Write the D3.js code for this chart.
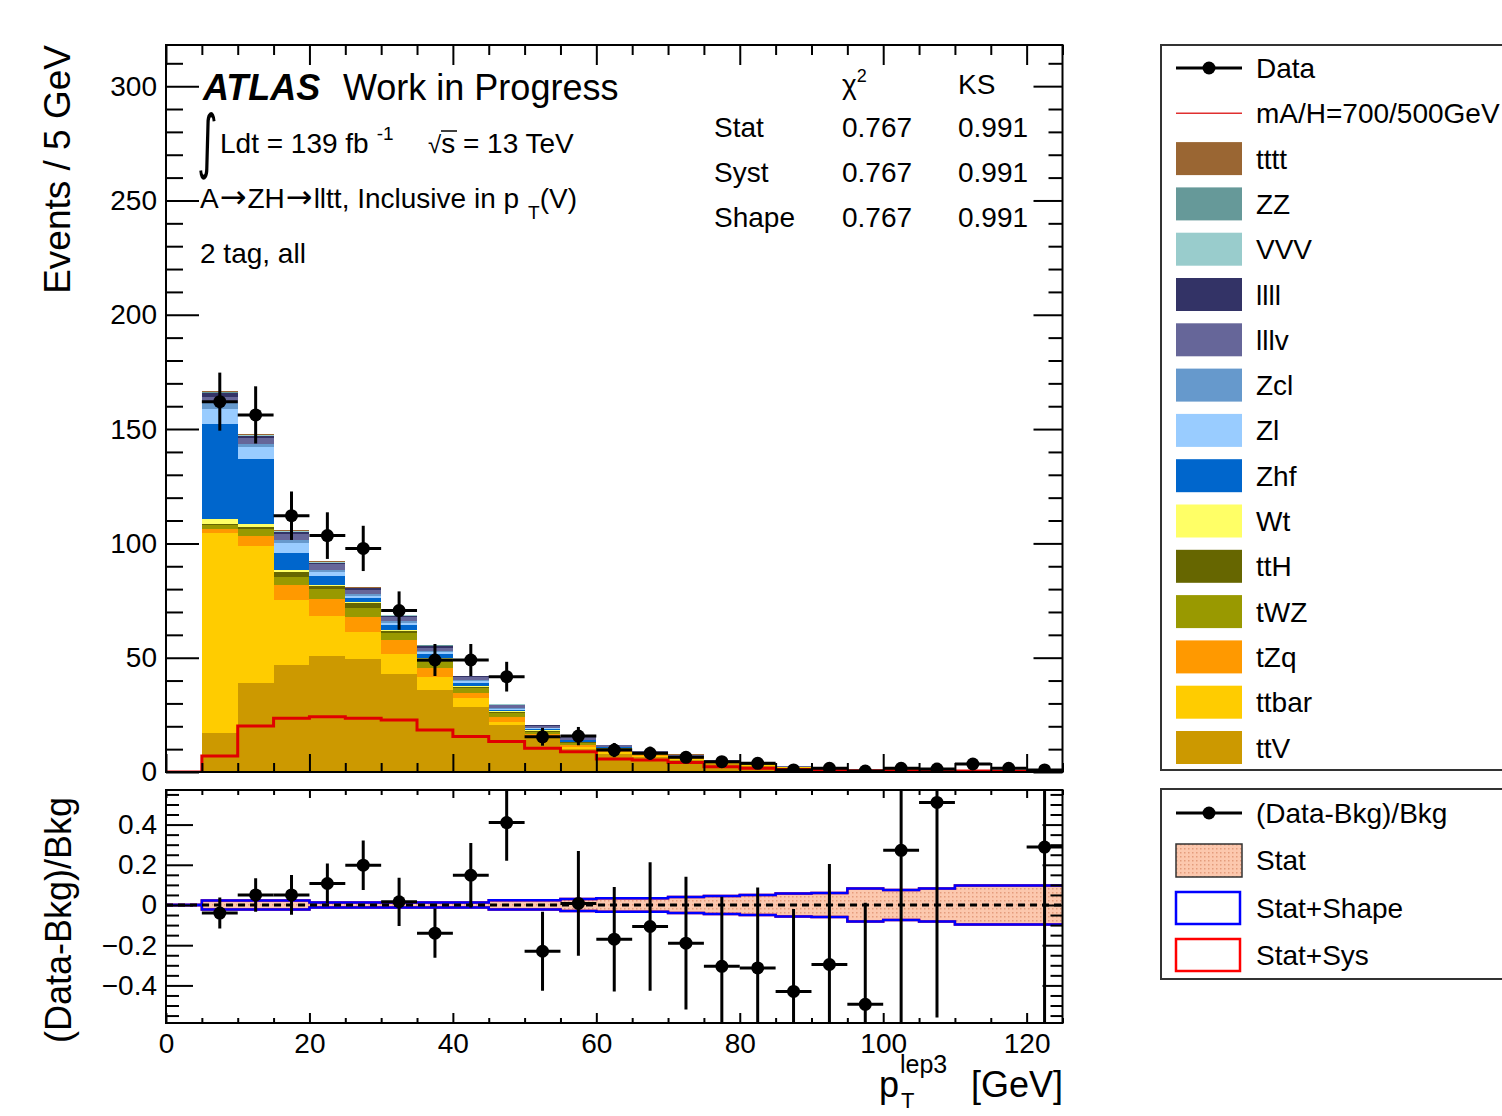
<!DOCTYPE html>
<html>
<head>
<meta charset="utf-8">
<script src="https://cdn.jsdelivr.net/npm/d3@7"></script>
<style>
  body { margin: 0; background: #fff; }
  text { font-family: "Liberation Sans", Arial, Helvetica, sans-serif; fill: #000; }
</style>
</head>
<body>
<svg id="chart"></svg>
<script>
// bins of 5 GeV, lower edges
const binLo = [0, 5, 10, 15, 20, 25, 30, 35, 40, 45, 50, 55, 60, 65, 70, 75, 80, 85, 90, 95, 100, 105, 110, 115, 120]
const binWidth = 5

// backgrounds (events / 5 GeV)
const ttV   = [0, 16.9, 38.8, 46.8, 50.9, 49.4, 42.9, 35.9, 28.6, 20.6, 14.7, 9.9, 8.0, 6.5, 5.2, 4.0, 2.8, 1.9, 1.3, 0.7, 0.9, 0.7, 0.6, 0.5, 0.5]
const ttbar = [0, 87.5, 60.2, 28.4, 17.5, 11.7, 8.7, 5.8, 3.6, 1.4, 1.0, 0.9, 0.6, 0.4, 0.5, 0.3, 0.2, 0.1, 0.1, 0.05, 0.1, 0.1, 0.1, 0.1, 0.05]
const tZq   = [0, 1.8, 4.4, 6.6, 7.1, 6.9, 6.1, 3.9, 2.5, 1.9, 0.9, 1.0, 0.6, 0.4, 0.4, 0.2, 0.1, 0.1, 0.05, 0.05, 0.05, 0.05, 0.05, 0.05, 0.03]
const tWZ   = [0, 1.8, 2.8, 3.4, 4.4, 3.6, 3.0, 2.7, 1.9, 1.8, 1.0, 1.0, 0.8, 0.5, 0.4, 0.2, 0.15, 0.1, 0.08, 0.05, 0.06, 0.05, 0.04, 0.04, 0.04]
const ttH   = [0, 0.5, 1.1, 2.4, 1.5, 2.2, 1.0, 1.0, 0.7, 0.7, 0.4, 0.3, 0.3, 0.2, 0.2, 0.1, 0.05, 0.05, 0.03, 0.02, 0.02, 0.02, 0.02, 0.02, 0.02]
const Wt    = [0, 2.0, 1.2, 0.8, 0.4, 0.4, 0.4, 0.4, 0.3, 0.2, 0.2, 0.1, 0.1, 0.05, 0.05, 0.02, 0.02, 0.01, 0.01, 0, 0, 0, 0, 0, 0]
const Zhf   = [0, 41.7, 28.3, 7.5, 4.1, 1.8, 2.2, 1.8, 1.5, 0.6, 0.6, 0.6, 0.4, 0.3, 0.2, 0.1, 0.05, 0.03, 0.02, 0.02, 0.02, 0.01, 0.01, 0.01, 0.01]
const Zl    = [0, 6.5, 5.2, 4.4, 1.7, 1.0, 1.0, 1.0, 0.6, 0.4, 0.3, 0.2, 0.2, 0.1, 0.1, 0.05, 0.03, 0.02, 0.01, 0.01, 0.01, 0.01, 0.01, 0, 0]
const Zcl   = [0, 2.6, 1.5, 1.2, 0.8, 0.7, 0.7, 0.6, 0.5, 0.3, 0.2, 0.2, 0.1, 0.1, 0.05, 0.03, 0.02, 0.01, 0.01, 0, 0, 0, 0, 0, 0]
const lllv  = [0, 2.9, 2.5, 2.6, 2.6, 1.9, 1.7, 1.3, 1.2, 1.2, 1.0, 0.9, 0.6, 0.5, 0.4, 0.2, 0.15, 0.1, 0.08, 0.05, 0.05, 0.04, 0.04, 0.04, 0.03]
const llll  = [0, 1.4, 1.0, 0.9, 0.6, 0.8, 0.7, 0.8, 0.5, 0.4, 0.3, 0.2, 0.2, 0.1, 0.1, 0.05, 0.05, 0.03, 0.02, 0.02, 0.02, 0.02, 0.02, 0.02, 0.01]
const VVV   = [0, 0.3, 0.2, 0.2, 0.1, 0.1, 0.1, 0.1, 0.1, 0.05, 0.05, 0.05, 0.03, 0.03, 0.02, 0.02, 0.01, 0.01, 0.01, 0.01, 0.01, 0.01, 0.01, 0.01, 0.01]
const ZZ    = [0, 0.5, 0.4, 0.3, 0.2, 0.2, 0.2, 0.1, 0.1, 0.05, 0.05, 0.05, 0.03, 0.03, 0.02, 0.02, 0.01, 0.01, 0.01, 0.01, 0.01, 0.01, 0.01, 0.01, 0.01]
const tttt  = [0, 0.4, 0.3, 0.2, 0.2, 0.2, 0.1, 0.1, 0.1, 0.05, 0.05, 0.03, 0.03, 0.02, 0.02, 0.01, 0.01, 0.01, 0.01, 0, 0, 0, 0, 0, 0]

// signal mA/H = 700/500 GeV
const signal = [0, 7.0, 20.1, 23.5, 24.2, 23.5, 22.7, 18.4, 15.5, 13.3, 10.4, 8.9, 5.7, 5.2, 4.2, 2.3, 1.6, 1.1, 0.9, 0.6, 0.5, 0.4, 0.4, 0.3, 0.3]

// data with errors
const dataVal = [null, 162, 156.2, 112.1, 103.4, 97.8, 70.6, 49, 49, 41.7, 15.4, 15.7, 9.6, 8.2, 6.4, 4.5, 3.8, 0.9, 1.6, 0.4, 1.6, 1.3, 3.5, 1.6, 0.9]
const dataErr = [null, 12.7, 12.5, 10.6, 10.2, 9.9, 8.4, 7.0, 7.0, 6.5, 3.9, 4.0, 3.1, 2.9, 2.5, 2.1, 1.9, 0.9, 1.3, 0.6, 1.3, 1.1, 1.9, 1.3, 0.9]

// ratio panel (110-120 GeV points are off scale)
const ratioVal = [null, -0.04, 0.05, 0.05, 0.107, 0.198, 0.016, -0.14, 0.148, 0.41, -0.23, 0.008, -0.17, -0.107, -0.19, -0.305, -0.313, -0.43, -0.296, -0.494, 0.272, 0.51, null, null, 0.288]
const ratioErr = [null, 0.077, 0.083, 0.099, 0.10, 0.123, 0.12, 0.123, 0.16, 0.19, 0.196, 0.26, 0.26, 0.32, 0.33, 0.346, 0.40, 0.41, 0.50, 0.505, 1.0, 1.07, null, null, 1.1]
const statBand = [0, 0.022, 0.022, 0.022, 0.012, 0.012, 0.012, 0.012, 0.012, 0.023, 0.023, 0.03, 0.033, 0.033, 0.04, 0.045, 0.05, 0.057, 0.06, 0.082, 0.075, 0.082, 0.097, 0.097, 0.097]

// labels and ticks
const legendKeys = ['tttt', 'ZZ', 'VVV', 'llll', 'lllv', 'Zcl', 'Zl', 'Zhf', 'Wt', 'ttH', 'tWZ', 'tZq', 'ttbar', 'ttV']
const legendColors = ['#9a6633', '#669999', '#99cccc', '#333366', '#666699', '#6699cc', '#99ccff', '#0066cc', '#ffff66', '#666600', '#999900', '#ff9900', '#ffcc00', '#cc9900']
const yTicks = [0, 50, 100, 150, 200, 250, 300]
const xTicks = [0, 20, 40, 60, 80, 100, 120]
const rTicks = [-0.4, -0.2, 0, 0.2, 0.4]
const statNames = ['Stat', 'Syst', 'Shape']
const chi2Vals = ['0.767', '0.767', '0.767']
const ksVals = ['0.991', '0.991', '0.991']

const bkg = { ttV, ttbar, tZq, tWZ, ttH, Wt, Zhf, Zl, Zcl, lllv, llll, VVV, ZZ, tttt }
const stackOrder = legendKeys.slice().reverse()
const colorScale = d3.scaleOrdinal().domain(legendKeys).range(legendColors)

const svg = d3.select('#chart').attr('width', 1502).attr('height', 1116)

const x = d3.scaleLinear().domain([0, 125]).range([166, 1062.5])
const y = d3.scaleLinear().domain([0, 318]).range([772, 45])
const yr = d3.scaleLinear().domain([-0.587, 0.572]).range([1023, 790])

const defs = svg.append('defs')
defs.append('clipPath').attr('id', 'clipMain')
  .append('rect').attr('x', 166).attr('y', 45).attr('width', 896.5).attr('height', 727)
defs.append('clipPath').attr('id', 'clipRatio')
  .append('rect').attr('x', 166).attr('y', 790).attr('width', 896.5).attr('height', 233)
const pat = defs.append('pattern').attr('id', 'statPat')
  .attr('width', 4).attr('height', 4).attr('patternUnits', 'userSpaceOnUse')
pat.append('rect').attr('width', 4).attr('height', 4).attr('fill', '#fcc8ae')
pat.append('rect').attr('width', 1.5).attr('height', 1.5).attr('fill', '#e49c7c')

/* ---------- main panel ---------- */
const rows = binLo.map((lo, i) => {
  const r = { lo }
  stackOrder.forEach(k => { r[k] = bkg[k][i] })
  return r
})
const series = d3.stack().keys(stackOrder)(rows)

const main = svg.append('g').attr('clip-path', 'url(#clipMain)')
main.selectAll('.layer')
  .data(series)
  .enter()
  .append('g')
  .attr('class', 'layer')
  .attr('fill', d => colorScale(d.key))
  .each(function(s) {
    d3.select(this).selectAll('rect')
      .data(s)
      .enter()
      .append('rect')
      .attr('shape-rendering', 'crispEdges')
      .attr('x', d => x(d.data.lo))
      .attr('width', d => x(d.data.lo + binWidth) - x(d.data.lo))
      .attr('y', d => y(d[1]))
      .attr('height', d => Math.max(0, y(d[0]) - y(d[1])))
  })

// signal step line
const sigPts = binLo.map((lo, i) => [lo, signal[i]])
sigPts.push([125, signal[signal.length - 1]])
main.append('path')
  .datum(sigPts)
  .attr('fill', 'none')
  .attr('stroke', '#e00000')
  .attr('stroke-width', 3)
  .attr('d', d3.line().x(d => x(d[0])).y(d => y(d[1])).curve(d3.curveStepAfter))

function drawPoints(g, vals, errs, ys) {
  const pts = binLo.map((lo, i) => ({ lo, v: vals[i], e: errs[i] })).filter(d => d.v !== null)
  const p = g.selectAll('.pt').data(pts).enter().append('g').attr('class', 'pt')
  p.append('line')
    .attr('x1', d => x(d.lo)).attr('x2', d => x(d.lo + binWidth))
    .attr('y1', d => ys(d.v)).attr('y2', d => ys(d.v))
    .attr('stroke', '#000').attr('stroke-width', 3)
  p.append('line')
    .attr('x1', d => x(d.lo + binWidth / 2)).attr('x2', d => x(d.lo + binWidth / 2))
    .attr('y1', d => ys(d.v - d.e)).attr('y2', d => ys(d.v + d.e))
    .attr('stroke', '#000').attr('stroke-width', 3)
  p.append('circle')
    .attr('cx', d => x(d.lo + binWidth / 2)).attr('cy', d => ys(d.v))
    .attr('r', 6.5).attr('fill', '#000')
}
drawPoints(main, dataVal, dataErr, y)

/* ---------- ratio panel ---------- */
const ratio = svg.append('g').attr('clip-path', 'url(#clipRatio)')
const bandPts = binLo.map((lo, i) => ({ lo, e: statBand[i] }))
bandPts.push({ lo: 125, e: statBand[statBand.length - 1] })
ratio.append('path')
  .datum(bandPts)
  .attr('fill', 'url(#statPat)')
  .attr('d', d3.area().x(d => x(d.lo)).y0(d => yr(-d.e)).y1(d => yr(d.e)).curve(d3.curveStepAfter))
const edgeLine = sign => d3.line().x(d => x(d.lo)).y(d => yr(sign * d.e)).curve(d3.curveStepAfter)
;['#ff0000', '#0000ff'].forEach(c => {
  ;[1, -1].forEach(s => {
    ratio.append('path').datum(bandPts)
      .attr('fill', 'none').attr('stroke', c).attr('stroke-width', 2.5)
      .attr('d', edgeLine(s))
  })
})
ratio.append('line')
  .attr('x1', x(0)).attr('x2', x(125)).attr('y1', yr(0)).attr('y2', yr(0))
  .attr('stroke', '#000').attr('stroke-width', 3).attr('stroke-dasharray', '7,5')
drawPoints(ratio, ratioVal, ratioErr, yr)

/* ---------- frames and axes ---------- */
function styleAxis(g) {
  g.select('.domain').remove()
  g.selectAll('.tick line').attr('stroke', '#000').attr('stroke-width', 2)
  g.selectAll('.tick text').attr('font-size', 28).attr('fill', '#000')
}
function minorVals(lo, hi, step, majors) {
  const out = []
  for (let v = lo; v <= hi + 1e-9; v += step) {
    const r = Math.round(v * 1000) / 1000
    if (!majors.some(m => Math.abs(m - r) < 1e-6)) out.push(r)
  }
  return out
}
const fmt = d3.format('')

// main panel
svg.append('g').attr('transform', 'translate(166,0)')
  .call(d3.axisLeft(y).tickValues(yTicks).tickSize(-33).tickPadding(9)).call(styleAxis)
svg.append('g').attr('transform', 'translate(166,0)')
  .call(d3.axisLeft(y).tickValues(minorVals(0, 310, 10, yTicks)).tickSize(-17).tickFormat('')).call(styleAxis)
svg.append('g').attr('transform', 'translate(1062.5,0)')
  .call(d3.axisRight(y).tickValues(yTicks).tickSize(-29).tickFormat('')).call(styleAxis)
svg.append('g').attr('transform', 'translate(1062.5,0)')
  .call(d3.axisRight(y).tickValues(minorVals(0, 310, 10, yTicks)).tickSize(-14).tickFormat('')).call(styleAxis)
svg.append('g').attr('transform', 'translate(0,772)')
  .call(d3.axisBottom(x).tickValues(xTicks).tickSize(-18).tickFormat('')).call(styleAxis)
svg.append('g').attr('transform', 'translate(0,772)')
  .call(d3.axisBottom(x).tickValues(minorVals(0, 125, 5, xTicks)).tickSize(-9).tickFormat('')).call(styleAxis)
svg.append('g').attr('transform', 'translate(0,45)')
  .call(d3.axisTop(x).tickValues(xTicks).tickSize(-20).tickFormat('')).call(styleAxis)
svg.append('g').attr('transform', 'translate(0,45)')
  .call(d3.axisTop(x).tickValues(minorVals(0, 125, 5, xTicks)).tickSize(-10).tickFormat('')).call(styleAxis)
svg.append('rect').attr('x', 166).attr('y', 45).attr('width', 896.5).attr('height', 727)
  .attr('fill', 'none').attr('stroke', '#000').attr('stroke-width', 2)

// ratio panel
const rMinor = minorVals(-0.55, 0.55, 0.05, rTicks)
svg.append('g').attr('transform', 'translate(166,0)')
  .call(d3.axisLeft(yr).tickValues(rTicks).tickSize(-27).tickPadding(9).tickFormat(d3.format(''))).call(styleAxis)
svg.append('g').attr('transform', 'translate(166,0)')
  .call(d3.axisLeft(yr).tickValues(rMinor).tickSize(-13).tickFormat('')).call(styleAxis)
svg.append('g').attr('transform', 'translate(1062.5,0)')
  .call(d3.axisRight(yr).tickValues(rTicks).tickSize(-20).tickFormat('')).call(styleAxis)
svg.append('g').attr('transform', 'translate(1062.5,0)')
  .call(d3.axisRight(yr).tickValues(rMinor).tickSize(-12).tickFormat('')).call(styleAxis)
svg.append('g').attr('transform', 'translate(0,1023)')
  .call(d3.axisBottom(x).tickValues(xTicks).tickSize(-10).tickPadding(10).tickFormat(fmt)).call(styleAxis)
svg.append('g').attr('transform', 'translate(0,1023)')
  .call(d3.axisBottom(x).tickValues(minorVals(0, 125, 5, xTicks)).tickSize(-5).tickFormat('')).call(styleAxis)
svg.append('g').attr('transform', 'translate(0,790)')
  .call(d3.axisTop(x).tickValues(xTicks).tickSize(-8).tickFormat('')).call(styleAxis)
svg.append('g').attr('transform', 'translate(0,790)')
  .call(d3.axisTop(x).tickValues(minorVals(0, 125, 5, xTicks)).tickSize(-5).tickFormat('')).call(styleAxis)
svg.append('rect').attr('x', 166).attr('y', 790).attr('width', 896.5).attr('height', 233)
  .attr('fill', 'none').attr('stroke', '#000').attr('stroke-width', 2)

// axis titles
svg.append('text')
  .attr('transform', 'translate(70,45) rotate(-90)')
  .attr('text-anchor', 'end').attr('font-size', 37)
  .text('Events / 5 GeV')
svg.append('text')
  .attr('transform', 'translate(71,797) rotate(-90)')
  .attr('text-anchor', 'end').attr('font-size', 36)
  .text('(Data-Bkg)/Bkg')
svg.append('text').attr('x', 1063).attr('y', 1097).attr('text-anchor', 'end').attr('font-size', 36).text('[GeV]')
svg.append('text').attr('x', 879).attr('y', 1097).attr('font-size', 36).text('p')
svg.append('text').attr('x', 900).attr('y', 1073).attr('font-size', 25).text('lep3')
svg.append('text').attr('x', 901).attr('y', 1108).attr('font-size', 22).text('T')

/* ---------- labels in the plot ---------- */
svg.append('text').attr('x', 203).attr('y', 100).attr('font-size', 36)
  .attr('font-weight', 'bold').attr('font-style', 'italic').text('ATLAS')
svg.append('text').attr('x', 343).attr('y', 100).attr('font-size', 36).text('Work in Progress')

svg.append('text').attr('x', 197).attr('y', 163).attr('font-size', 40)
  .attr('transform', 'translate(0,-120) scale(1,1.75)')
  .style('font-family', '"DejaVu Sans", sans-serif').text('∫')
const lumi = svg.append('text').attr('x', 220).attr('y', 153).attr('font-size', 28)
lumi.append('tspan').text('Ldt = 139 fb')
lumi.append('tspan').attr('dx', 8).attr('dy', -13).attr('font-size', 19).text('-1')
const sqrtT = svg.append('text').attr('x', 428).attr('y', 153).attr('font-size', 28)
sqrtT.append('tspan').attr('font-size', 24).text('√')
sqrtT.append('tspan').text('s = 13 TeV')
svg.append('line').attr('x1', 441).attr('x2', 457).attr('y1', 131).attr('y2', 131)
  .attr('stroke', '#000').attr('stroke-width', 1.5)

const chan = svg.append('text').attr('x', 200).attr('y', 208).attr('font-size', 28)
chan.append('tspan').text('A')
chan.append('tspan').attr('dx', 1).style('font-family', '"DejaVu Sans", sans-serif').attr('font-size', 32).text('→')
chan.append('tspan').attr('dx', 1).text('ZH')
chan.append('tspan').attr('dx', 1).style('font-family', '"DejaVu Sans", sans-serif').attr('font-size', 32).text('→')
chan.append('tspan').attr('dx', 1).text('lltt, Inclusive in p')
chan.append('tspan').attr('dx', 9).attr('dy', 11).attr('font-size', 19).text('T')
chan.append('tspan').attr('dy', -11).text('(V)')
svg.append('text').attr('x', 200).attr('y', 263).attr('font-size', 28).text('2 tag, all')

// fit table
const chi = svg.append('text').attr('x', 842).attr('y', 94).attr('font-size', 28)
chi.append('tspan').text('χ')
chi.append('tspan').attr('dy', -12).attr('font-size', 18).text('2')
svg.append('text').attr('x', 958).attr('y', 94).attr('font-size', 28).text('KS')
statNames.forEach((s, i) => {
  const yy = 137 + i * 45
  svg.append('text').attr('x', 714).attr('y', yy).attr('font-size', 28).text(s)
  svg.append('text').attr('x', 842).attr('y', yy).attr('font-size', 28).text(chi2Vals[i])
  svg.append('text').attr('x', 958).attr('y', yy).attr('font-size', 28).text(ksVals[i])
})

/* ---------- legends ---------- */
svg.append('rect').attr('x', 1161).attr('y', 45).attr('width', 400).attr('height', 725)
  .attr('fill', '#fff').attr('stroke', '#333').attr('stroke-width', 2)
svg.append('rect').attr('x', 1161).attr('y', 789).attr('width', 400).attr('height', 190)
  .attr('fill', '#fff').attr('stroke', '#333').attr('stroke-width', 2)

const legY = i => 68 + i * 45.3
const leg = svg.append('g')
// data
leg.append('line').attr('x1', 1176).attr('x2', 1242).attr('y1', legY(0)).attr('y2', legY(0))
  .attr('stroke', '#000').attr('stroke-width', 3)
leg.append('circle').attr('cx', 1209).attr('cy', legY(0)).attr('r', 6.5).attr('fill', '#000')
leg.append('text').attr('x', 1256).attr('y', legY(0) + 10).attr('font-size', 28).text('Data')
// signal
leg.append('line').attr('x1', 1176).attr('x2', 1242).attr('y1', legY(1)).attr('y2', legY(1))
  .attr('stroke', '#e03030').attr('stroke-width', 1.5)
leg.append('text').attr('x', 1256).attr('y', legY(1) + 10).attr('font-size', 28).text('mA/H=700/500GeV')

leg.selectAll('.legend-entry')
  .data(legendKeys)
  .enter()
  .append('g')
  .attr('class', 'legend-entry')
  .attr('transform', (d, i) => `translate(0,${legY(i + 2)})`)
  .each(function(d) {
    const g = d3.select(this)
    g.append('rect').attr('x', 1176).attr('y', -16.5).attr('width', 66).attr('height', 33)
      .attr('fill', colorScale(d))
    g.append('text').attr('x', 1256).attr('y', 10).attr('font-size', 28).text(d)
  })

// ratio legend
const rl = svg.append('g')
rl.append('line').attr('x1', 1176).attr('x2', 1242).attr('y1', 813).attr('y2', 813)
  .attr('stroke', '#000').attr('stroke-width', 3)
rl.append('circle').attr('cx', 1209).attr('cy', 813).attr('r', 6.5).attr('fill', '#000')
rl.append('text').attr('x', 1256).attr('y', 823).attr('font-size', 28).text('(Data-Bkg)/Bkg')
rl.append('rect').attr('x', 1176).attr('y', 844).attr('width', 66).attr('height', 33)
  .attr('fill', 'url(#statPat)').attr('stroke', '#333').attr('stroke-width', 1.5)
rl.append('text').attr('x', 1256).attr('y', 870).attr('font-size', 28).text('Stat')
rl.append('rect').attr('x', 1176).attr('y', 892).attr('width', 64).attr('height', 32)
  .attr('fill', '#fff').attr('stroke', '#0000ff').attr('stroke-width', 2.5)
rl.append('text').attr('x', 1256).attr('y', 918).attr('font-size', 28).text('Stat+Shape')
rl.append('rect').attr('x', 1176).attr('y', 939).attr('width', 64).attr('height', 32)
  .attr('fill', '#fff').attr('stroke', '#ff0000').attr('stroke-width', 2.5)
rl.append('text').attr('x', 1256).attr('y', 965).attr('font-size', 28).text('Stat+Sys')
</script>
</body>
</html>
